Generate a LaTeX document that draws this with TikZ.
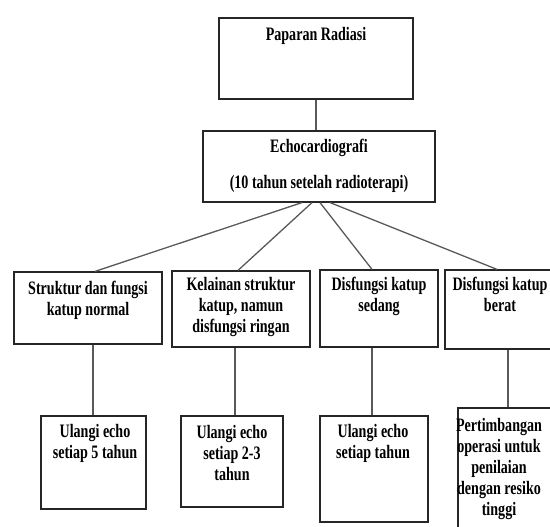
\documentclass[tikz,border=0pt]{standalone}
\usepackage{fontspec}
\newfontfamily\tnr[FakeStretch=0.74]{Liberation Serif}
\def\st{\rule{0pt}{13pt}}
\begin{document}
\begin{tikzpicture}[x=1pt,y=-1pt,
  box/.style={draw=black!85, line width=1.2pt, inner sep=0, fill=white},
  txt/.style={inner sep=0, align=center, anchor=north, text=black,
    font=\tnr\bfseries\fontsize{19}{21}\selectfont},
  conn/.style={draw=black!65, line width=1.3pt}]
\useasboundingbox (0,0) rectangle (550,527);
\clip (0,0) rectangle (550,527);
% boxes
\node[box, minimum width=194pt, minimum height=81pt] (pap) at (316,58.5) {};
\node[box, minimum width=232pt, minimum height=71pt] (echo) at (319,166.5) {};
\node[box, minimum width=148pt, minimum height=72pt] (l1) at (88,308) {};
\node[box, minimum width=138pt, minimum height=76pt] (l2) at (241,309) {};
\node[box, minimum width=118pt, minimum height=77pt] (l3) at (379,308.5) {};
\node[box, minimum width=126pt, minimum height=79pt] (l4) at (508,309.5) {};
\node[box, minimum width=105pt, minimum height=93pt] (b1) at (93.5,462.5) {};
\node[box, minimum width=102pt, minimum height=91pt] (b2) at (232,461.5) {};
\node[box, minimum width=108pt, minimum height=106pt] (b3) at (374,469) {};
\node[box, minimum width=100pt, minimum height=130pt] (b4) at (508,473) {};
% connectors
\draw[conn] (pap.south) -- (pap.south |- echo.north);
\draw[conn] ([xshift=-17pt]echo.south) -- ([xshift=7pt]l1.north);
\draw[conn] ([xshift=-7pt]echo.south) -- ([xshift=-3pt]l2.north);
\draw[conn] ([xshift=1pt]echo.south) -- ([xshift=-7pt]l3.north);
\draw[conn] ([xshift=11pt]echo.south) -- ([xshift=-11pt]l4.north);
\draw[conn] ([xshift=-0.5pt]b1.north) -- ([xshift=-0.5pt]b1.north |- l1.south);
\draw[conn] ([xshift=3pt]b2.north) -- ([xshift=3pt]b2.north |- l2.south);
\draw[conn] ([xshift=-2pt]b3.north) -- ([xshift=-2pt]b3.north |- l3.south);
\draw[conn] (b4.north) -- (b4.north |- l4.south);
% texts
\node[txt] (papt) at (316,27) {\st Paparan Radiasi};
\node[txt] (echot) at (319,139) {\st Echocardiografi\\[15pt](10 tahun setelah radioterapi)};
\node[txt] (l1t) at (88,281) {\st Struktur dan fungsi\\katup normal};
\node[txt] (l2t) at (241,277) {\st Kelainan struktur\\katup, namun\\disfungsi ringan};
\node[txt] (l3t) at (379,277) {\st Disfungsi katup\\sedang};
\node[txt] (l4t) at (500,277) {\st Disfungsi katup\\berat};
\node[txt] (b1t) at (95,424) {\st Ulangi echo\\setiap 5 tahun};
\node[txt] (b2t) at (232,425) {\st Ulangi echo\\setiap 2-3\\tahun};
\node[txt] (b3t) at (373,424) {\st Ulangi echo\\setiap tahun};
\node[txt] (b4t) at (499,418) {\st Pertimbangan\\operasi untuk\\penilaian\\dengan resiko\\tinggi};
\end{tikzpicture}
\end{document}
